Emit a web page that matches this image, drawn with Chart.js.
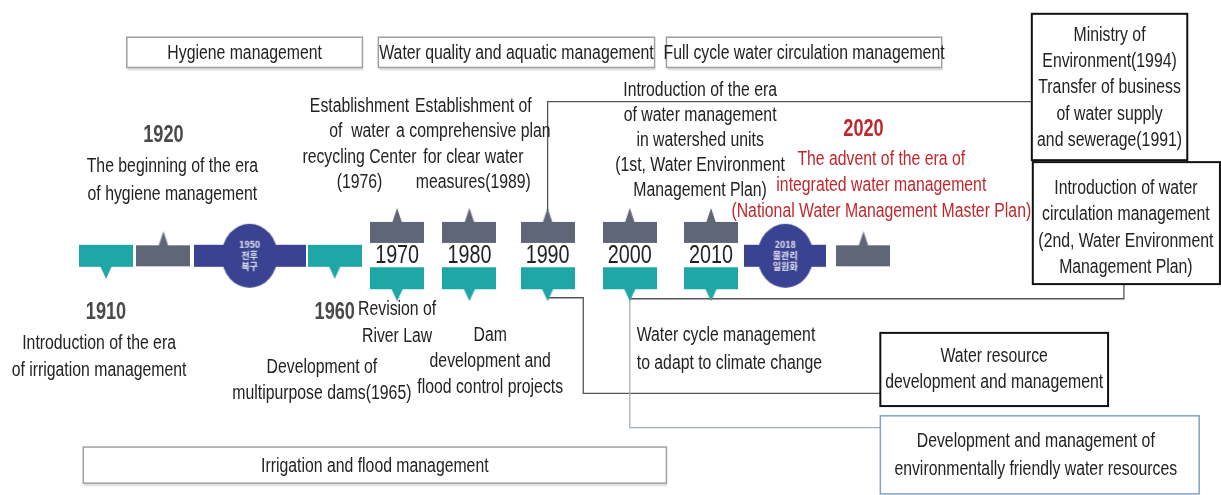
<!DOCTYPE html>
<html lang="en">
<head>
<meta charset="UTF-8">
<title>Water management timeline</title>
<script src="https://cdn.jsdelivr.net/npm/chart.js"></script>
<style>
    html, body { margin: 0; padding: 0; background: #fff; }
    #wrap { width: 1221px; height: 495px; }
</style>
</head>
<body>
<div id="wrap"><canvas id="timeline" width="1221" height="495"></canvas></div>
<script>
// timeline slots left to right, with their place along the strip
const slotYears = ['1910', '1920', '1950', '1960', '1970', '1980', '1990', '2000', '2010', '2018', '2020'];
const slotPos   = [101, 159, 246, 332, 395, 468, 547, 630, 712, 787, 866];

// markers on each row of the strip
const midYears    = ['1910', '1920', '1950', '1960', '2018', '2020'];
const midKinds    = ['teal', 'gray', 'circle', 'teal', 'circle', 'gray'];
const topYears    = ['1970', '1980', '1990', '2000', '2010'];
const bottomYears = ['1970', '1980', '1990', '2000', '2010'];
const stripYears  = ['1970', '1980', '1990', '2000', '2010'];
const rowLevel    = { top: 232, mid: 256, bottom: 279 };

const circleText = {
    '1950': ['1950', '전후', '복구'],
    '2018': ['2018', '물관리', '일원화']
};

const periodNames = ['Hygiene management', 'Water quality and aquatic management',
                     'Full cycle water circulation management', 'Irrigation and flood management'];

// no narrow face installed, so Liberation Sans is squeezed sideways when drawn
const FONT = '"Liberation Sans", Arial, sans-serif';
const SQUEEZE = 0.79;
const TEAL = '#1fa6a6', GRAY = '#5f6677', NAVY = '#3a4391', RED = '#c0272d', INK = '#222';

const posOf = y => slotPos[slotYears.indexOf(y)];

function narrowText(ctx, text, px, py, align) {
    ctx.save();
    ctx.translate(px, py);
    ctx.scale(SQUEEZE, 1);
    ctx.textAlign = align || 'center';
    ctx.fillText(text, 0, 0);
    ctx.restore();
}

// marker pictures used as point styles
function tabImage(color, w, h, tip, up) {
    const c = document.createElement('canvas');
    c.width = w; c.height = h + 2 * tip;
    const g = c.getContext('2d');
    g.fillStyle = color;
    g.fillRect(0, tip, w, h);
    g.beginPath();
    if (up) {
        g.moveTo(w / 2 - 5, tip + 1); g.lineTo(w / 2, 0); g.lineTo(w / 2 + 5, tip + 1);
    } else {
        g.moveTo(w / 2 - 6, tip + h - 1); g.lineTo(w / 2, h + 2 * tip); g.lineTo(w / 2 + 6, tip + h - 1);
    }
    g.fill();
    return c;
}

function circleImage(lines, barW) {
    const c = document.createElement('canvas');
    c.width = barW; c.height = 66;
    const g = c.getContext('2d');
    g.fillStyle = NAVY;
    g.fillRect(0, 22, barW, 22);
    g.beginPath();
    g.ellipse(barW / 2, 33, 28, 32, 0, 0, Math.PI * 2);
    g.fill();
    g.fillStyle = '#e8e8f4';
    g.font = 'bold 9px "Noto Sans CJK KR", sans-serif';
    g.textAlign = 'center';
    g.textBaseline = 'middle';
    lines.forEach((t, i) => g.fillText(t, barW / 2, 22 + i * 11));
    return c;
}

const grayTab = tabImage(GRAY, 54, 21, 14, true);
const tealTab = tabImage(TEAL, 54, 22, 12, false);

const midStyles = midKinds.map((k, i) => {
    if (k === 'gray') return grayTab;
    if (k === 'teal') return tealTab;
    return circleImage(circleText[midYears[i]], midYears[i] === '1950' ? 112 : 82);
});

// text and boxes around the strip
const notes = [
    { x: 159, y: 133, lines: ['1920'], bold: true, size: 23, color: '#4a4a4a' },
    { x: 168, y: 164, lines: ['The beginning of the era', 'of hygiene management'], gap: 29 },
    { x: 101, y: 314, lines: ['1910'], bold: true, size: 23, color: '#4a4a4a' },
    { x: 94, y: 346, lines: ['Introduction of the era', 'of irrigation management'], gap: 28 },
    { x: 332, y: 314, lines: ['1960'], bold: true, size: 23, color: '#4a4a4a' },
    { x: 395, y: 311, lines: ['Revision of', 'River Law'], gap: 28 },
    { x: 319, y: 370, lines: ['Development of', 'multipurpose dams(1965)'] },
    { x: 489, y: 338, lines: ['Dam', 'development and', 'flood control projects'], gap: 26.5 },
    { x: 357, y: 103, lines: ['Establishment', 'of  water', 'recycling Center', '(1976)'], gap: 26 },
    { x: 472, y: 103, lines: ['Establishment of', 'a comprehensive plan', 'for clear water', 'measures(1989)'], gap: 26 },
    { x: 701, y: 87, lines: ['Introduction of the era', 'of water management', 'in watershed units',
                             '(1st, Water Environment', 'Management Plan)'], gap: 25.5 },
    { x: 866, y: 127, lines: ['2020'], bold: true, size: 23, color: RED },
    { x: 884, y: 157, lines: ['The advent of the era of', 'integrated water management',
                              '(National Water Management Master Plan)'], color: RED, gap: 27 },
    { x: 637, y: 338, lines: ['Water cycle management', 'to adapt to climate change'], align: 'left', gap: 28 }
];

const boxes = [
    { x0: 1036, y0: 8, x1: 1193, y1: 158, stroke: '#111', lines: ['Ministry of', 'Environment(1994)',
      'Transfer of business', 'of water supply', 'and sewerage(1991)'], ty: 30 },
    { x0: 1037, y0: 160, x1: 1226, y1: 285, stroke: '#111', lines: ['Introduction of water',
      'circulation management', '(2nd, Water Environment', 'Management Plan)'], ty: 187, tx: 1131 },
    { x0: 883, y0: 335, x1: 1113, y1: 410, stroke: '#111', lines: ['Water resource',
      'development and management'], ty: 359 },
    { x0: 883, y0: 420, x1: 1205, y1: 500, stroke: '#7ea3c4', width: 1.5, lines: ['Development and management of',
      'environmentally friendly water resources'], ty: 446, tx: 1040, gap: 29 }
];

const periodSpans = [[122, 360, 32, 63], [376, 655, 32, 63], [667, 945, 32, 63], [78, 667, 452, 489]];

const diagram = {
    id: 'diagram',
    beforeDatasetsDraw(chart) {
        const { ctx, scales: { x, y } } = chart;
        const X = v => x.getPixelForValue(v), Y = v => y.getPixelForValue(v);
        ctx.save();
        // period boxes
        periodSpans.forEach((s, i) => {
            ctx.fillStyle = 'rgba(0,0,0,0.12)';
            ctx.fillRect(X(s[0]) + 1, Y(s[3]), X(s[1]) - X(s[0]), 3);
            ctx.fillStyle = '#fff';
            ctx.fillRect(X(s[0]), Y(s[2]), X(s[1]) - X(s[0]), Y(s[3]) - Y(s[2]));
            ctx.strokeStyle = '#a0a0a0';
            ctx.lineWidth = 1.5;
            ctx.strokeRect(X(s[0]), Y(s[2]), X(s[1]) - X(s[0]), Y(s[3]) - Y(s[2]));
            ctx.fillStyle = INK;
            ctx.font = '20px ' + FONT;
            ctx.textBaseline = 'middle';
            narrowText(ctx, periodNames[i], X((s[0] + s[1]) / 2), Y((s[2] + s[3]) / 2) + 1);
        });
        // connector lines
        ctx.lineWidth = 1.3;
        ctx.strokeStyle = '#555';
        const p1990 = posOf('1990'), p2000 = posOf('2000');
        ctx.beginPath();
        ctx.moveTo(X(p1990), Y(rowLevel.top - 22)); ctx.lineTo(X(p1990), Y(98)); ctx.lineTo(X(1036), Y(98));
        ctx.moveTo(X(p1990), Y(rowLevel.bottom + 20)); ctx.lineTo(X(583), Y(rowLevel.bottom + 20));
        ctx.lineTo(X(583), Y(397)); ctx.lineTo(X(883), Y(397));
        ctx.moveTo(X(p2000), Y(rowLevel.bottom + 21)); ctx.lineTo(X(1129), Y(rowLevel.bottom + 21)); ctx.lineTo(X(1129), Y(285));
        ctx.stroke();
        ctx.strokeStyle = '#9fb0bb';
        ctx.beginPath();
        ctx.moveTo(X(p2000), Y(rowLevel.bottom + 21)); ctx.lineTo(X(p2000), Y(432)); ctx.lineTo(X(883), Y(432));
        ctx.stroke();
        ctx.restore();
    },
    afterDatasetsDraw(chart) {
        const { ctx, scales: { x, y } } = chart;
        const X = v => x.getPixelForValue(v), Y = v => y.getPixelForValue(v);
        ctx.save();
        ctx.textBaseline = 'middle';
        // years printed on the strip
        ctx.fillStyle = INK;
        ctx.font = '25px ' + FONT;
        stripYears.forEach(yr => narrowText(ctx, yr, X(posOf(yr)), Y(rowLevel.mid)));
        notes.forEach(n => {
            ctx.fillStyle = n.color || INK;
            ctx.font = (n.bold ? 'bold ' : '') + (n.size || 20) + 'px ' + FONT;
            n.lines.forEach((t, i) => narrowText(ctx, t, X(n.x), Y(n.y + i * (n.gap || 27)), n.align));
        });
        boxes.forEach(b => {
            ctx.fillStyle = '#fff';
            ctx.fillRect(X(b.x0), Y(b.y0), X(b.x1) - X(b.x0), Y(b.y1) - Y(b.y0));
            ctx.strokeStyle = b.stroke;
            ctx.lineWidth = b.width || 2;
            ctx.strokeRect(X(b.x0), Y(b.y0), X(b.x1) - X(b.x0), Y(b.y1) - Y(b.y0));
            ctx.fillStyle = INK;
            ctx.font = '20px ' + FONT;
            const cx = b.tx || (b.x0 + b.x1) / 2;
            b.lines.forEach((t, i) => narrowText(ctx, t, X(cx), Y(b.ty + i * (b.gap || 27))));
        });
        ctx.restore();
    }
};

new Chart(document.getElementById('timeline'), {
    type: 'scatter',
    data: {
        datasets: [
            {
                label: 'mid row',
                data: midYears.map(yr => ({ x: posOf(yr), y: rowLevel.mid })),
                pointStyle: midStyles,
                pointRadius: 5
            },
            {
                label: 'upper row',
                data: topYears.map(yr => ({ x: posOf(yr), y: rowLevel.top })),
                pointStyle: grayTab,
                pointRadius: 5
            },
            {
                label: 'lower row',
                data: bottomYears.map(yr => ({ x: posOf(yr), y: rowLevel.bottom })),
                pointStyle: tealTab,
                pointRadius: 5
            }
        ]
    },
    options: {
        responsive: false,
        animation: false,
        events: [],
        layout: { padding: 0 },
        plugins: { legend: { display: false }, tooltip: { enabled: false } },
        scales: {
            x: { type: 'linear', min: 0, max: 1221, display: false },
            y: { type: 'linear', min: 0, max: 495, reverse: true, display: false }
        }
    },
    plugins: [diagram]
});
</script>
</body>
</html>
